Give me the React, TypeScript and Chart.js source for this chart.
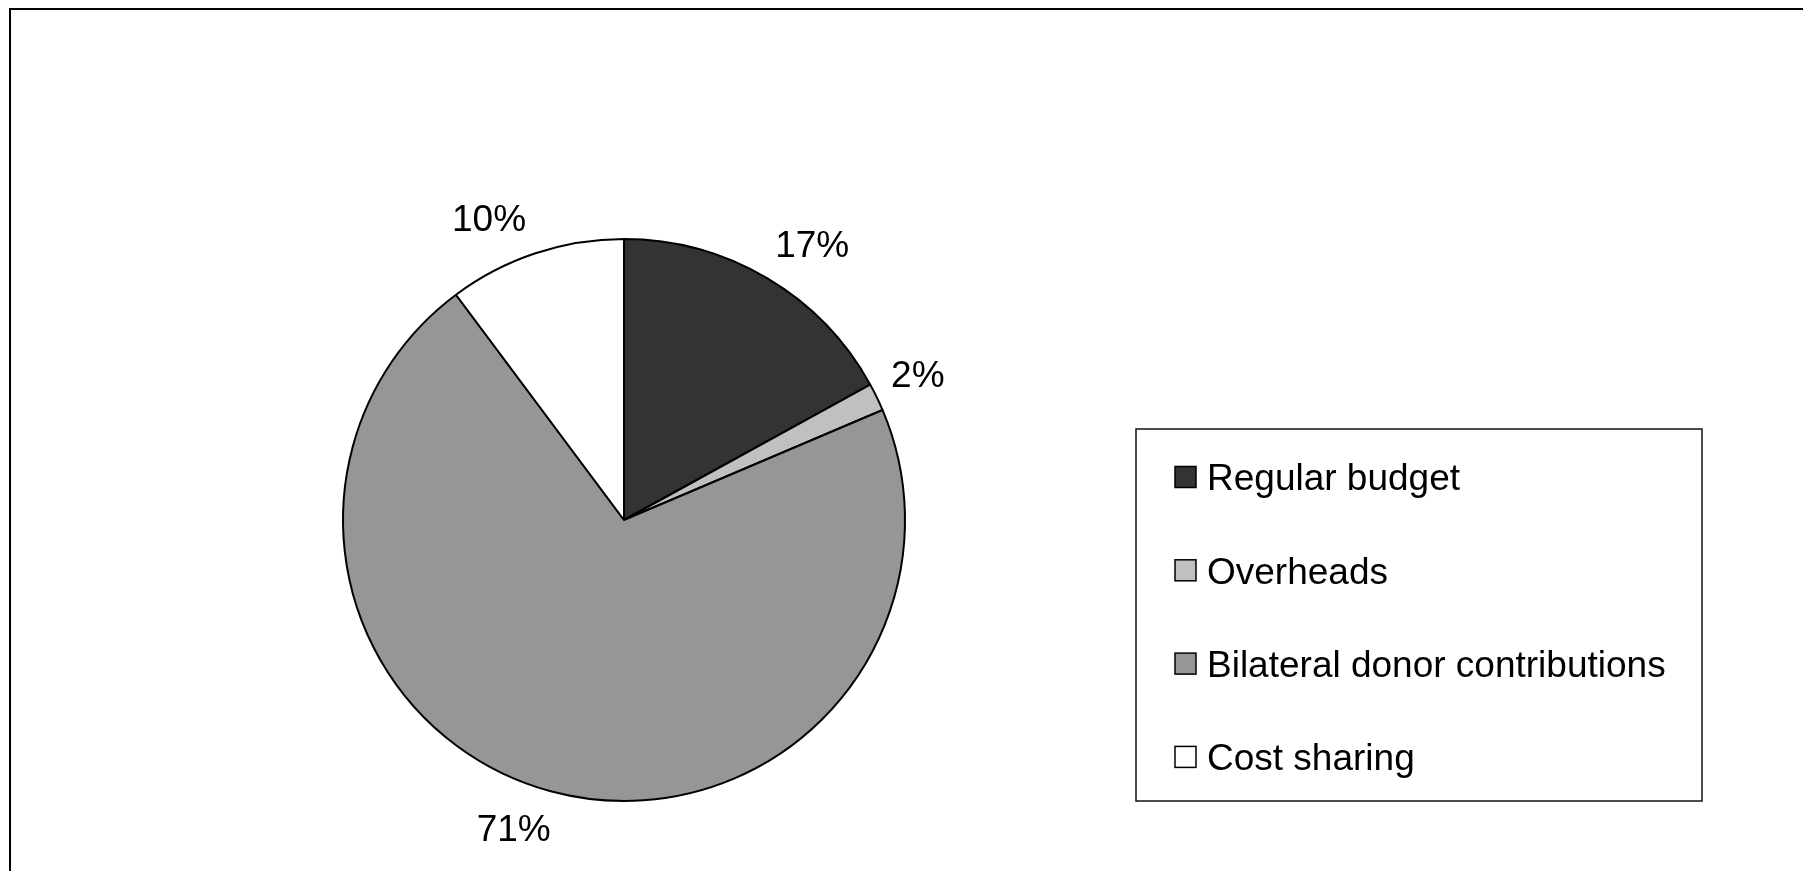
import React, { useEffect, useRef } from "react";
import { Chart, registerables } from "chart.js";

Chart.register(...registerables);

const categories = ["Regular budget", "Overheads", "Bilateral donor contributions", "Cost sharing"];
const shares = [17.0, 1.6, 71.2, 10.2];
const sliceColors = ["#333333", "#c0c0c0", "#969696", "#ffffff"];

const FONT = '"Liberation Sans", Arial, sans-serif';
const FONT_SIZE = 37;

const W = 1803;
const H = 871;

const framePlugin = {
  id: "frame",
  beforeDraw(chart: any) {
    const ctx = chart.ctx;
    ctx.save();
    ctx.fillStyle = "#ffffff";
    ctx.fillRect(0, 0, chart.width, chart.height);
    ctx.strokeStyle = "#000000";
    ctx.lineWidth = 2;
    ctx.beginPath();
    ctx.moveTo(10, chart.height);
    ctx.lineTo(10, 9);
    ctx.lineTo(chart.width, 9);
    ctx.stroke();
    ctx.restore();
  },
};

const pctLabelPlugin = {
  id: "pctLabels",
  afterDatasetsDraw(chart: any) {
    const ctx = chart.ctx;
    const meta = chart.getDatasetMeta(0);
    const data = chart.data.datasets[0].data as number[];
    const total = data.reduce((a: number, b: number) => a + b, 0);
    ctx.save();
    ctx.font = `${FONT_SIZE}px ${FONT}`;
    ctx.fillStyle = "#000000";
    ctx.textAlign = "center";
    ctx.textBaseline = "alphabetic";
    meta.data.forEach((arc: any, i: number) => {
      const p = arc.getProps(["x", "y", "startAngle", "endAngle", "outerRadius"], true);
      const mid = (p.startAngle + p.endAngle) / 2;
      const ux = Math.cos(mid);
      const uy = Math.sin(mid);
      const r = p.outerRadius + 20;
      const px = p.x + ux * r;
      const py = p.y + uy * r;
      const text = Math.round((data[i] / total) * 100) + "%";
      const w = ctx.measureText(text).width;
      const h = 34;
      let extra = 0;
      if (uy > 0) extra = -ux * 20;
      else if (ux < 0) extra = ux * 10;
      else extra = -ux * 4;
      const cx = px + Math.sign(ux) * (w / 2) + extra;
      const cy = py + (h / 2) * Math.max(-1, Math.min(1, uy * 2));
      ctx.fillText(text, cx, cy + 0.358 * FONT_SIZE);
    });
    ctx.restore();
  },
};

const legendPlugin = {
  id: "boxLegend",
  afterDraw(chart: any) {
    const ctx = chart.ctx;
    const ds = chart.data.datasets[0];
    const labels = chart.data.labels as string[];
    const boxL = 1136, boxT = 429, boxR = 1702, boxB = 801;
    ctx.save();
    ctx.strokeStyle = "#111111";
    ctx.lineWidth = 1.5;
    ctx.strokeRect(boxL, boxT, boxR - boxL, boxB - boxT);
    ctx.font = `${FONT_SIZE}px ${FONT}`;
    ctx.textAlign = "left";
    ctx.textBaseline = "alphabetic";
    const sw = 21;
    const firstY = 477;
    const step = 93.3;
    labels.forEach((lab, i) => {
      const cy = firstY + i * step;
      ctx.fillStyle = ds.backgroundColor[i];
      ctx.fillRect(1175, cy - sw / 2, sw, sw);
      ctx.lineWidth = 1.5;
      ctx.strokeStyle = "#000000";
      ctx.strokeRect(1175, cy - sw / 2, sw, sw);
      ctx.fillStyle = "#000000";
      ctx.fillText(lab, 1207, cy + 0.358 * FONT_SIZE);
    });
    ctx.restore();
  },
};

export default function App() {
  const canvasRef = useRef<HTMLCanvasElement | null>(null);

  useEffect(() => {
    const canvas = canvasRef.current;
    if (!canvas) return;
    const cx = 624;
    const cy = 520;
    const half = 300;
    const chart = new Chart(canvas, {
      type: "pie",
      data: {
        labels: categories,
        datasets: [
          {
            data: shares,
            backgroundColor: sliceColors,
            borderColor: "#000000",
            borderWidth: 2,
            radius: 281,
          } as any,
        ],
      },
      options: {
        responsive: false,
        animation: false,
        events: [],
        layout: {
          padding: {
            left: cx - half,
            right: W - (cx + half),
            top: cy - half,
            bottom: H - (cy + half),
          },
        },
        plugins: {
          legend: { display: false },
          tooltip: { enabled: false },
          title: { display: false },
        },
      },
      plugins: [framePlugin, pctLabelPlugin, legendPlugin],
    });
    return () => chart.destroy();
  }, []);

  return (
    <div style={{ position: "fixed", left: 0, top: 0, width: W, height: H, background: "#fff" }}>
      <canvas ref={canvasRef} width={W} height={H} style={{ display: "block", width: W, height: H }} />
    </div>
  );
}
